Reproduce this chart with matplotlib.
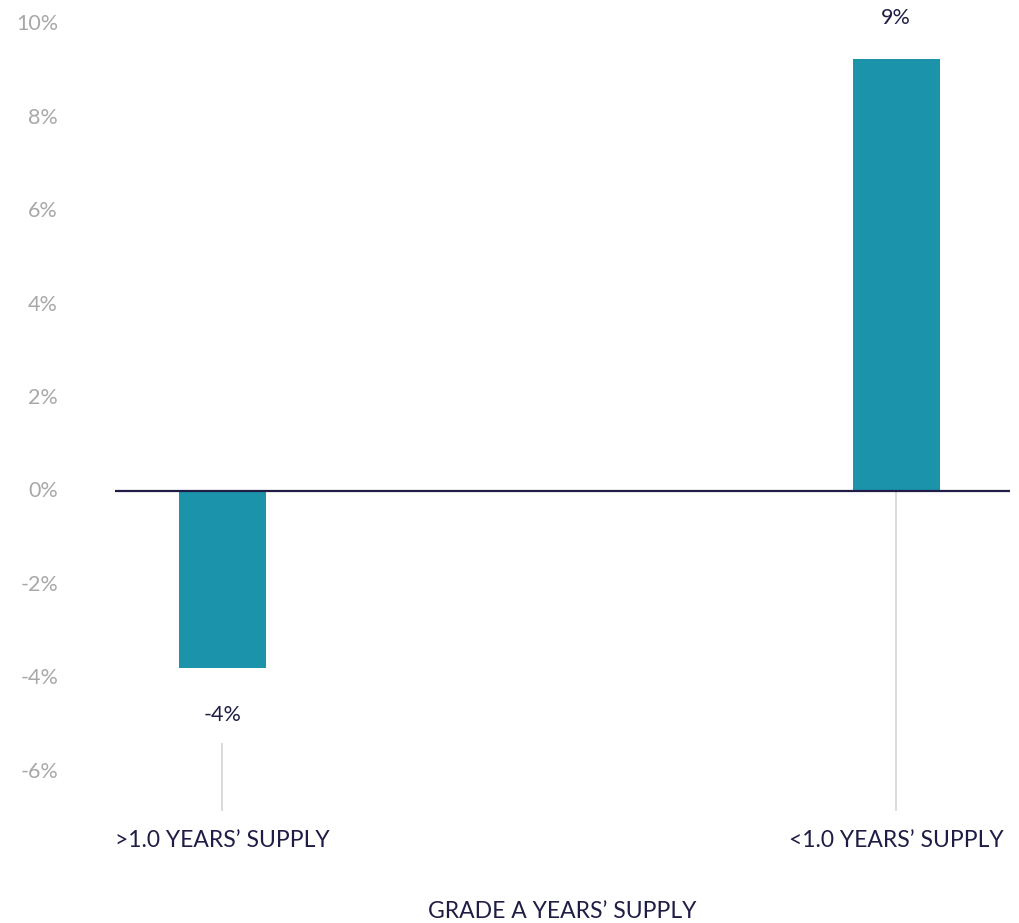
import matplotlib.pyplot as plt
from matplotlib.ticker import FuncFormatter
from matplotlib.transforms import ScaledTranslation

categories = [">1.0 YEARS’ SUPPLY", "<1.0 YEARS’ SUPPLY"]
values = [-3.79, 9.26]
yticks = [-6, -4, -2, 0, 2, 4, 6, 8, 10]

bar_color = "#1a93ab"
navy = "#1f1d45"
grey_text = "#a8a8a8"

plt.rcParams['font.family'] = ['Lato', 'DejaVu Sans']

fig = plt.figure(figsize=(10.19, 9.23), dpi=100)
ax = fig.add_axes([115 / 1019, 104.6 / 923, 895 / 1019, 812.6 / 923])

x = list(range(len(categories)))
ymin, ymax = -7, 10.4

# leader lines from each bar (or its label) down to the category name
for xi, v in zip(x, values):
    top = 0 if v > 0 else v - 1.6
    ax.vlines(xi, -6.85, top, color="#d4d4d4", lw=1.2, zorder=0)

ax.bar(x, values, width=0.129, color=bar_color, zorder=2)
ax.axhline(0, color=navy, lw=1.6, zorder=3)

for xi, v in zip(x, values):
    off = 41 if v > 0 else -47
    ax.annotate(f"{v:.0f}%", (xi, v), xytext=(0, off), textcoords="offset pixels",
                ha="center", va="center", fontsize=15.5, color=navy)

ax.set_xlim(-0.159, 1.169)
ax.set_ylim(ymin, ymax)
ax.set_yticks(yticks)
ax.yaxis.set_major_formatter(FuncFormatter(lambda v, p: f"{v:.0f}%"))
ax.tick_params(axis="y", length=0, pad=41, labelsize=15.5, labelcolor=grey_text)
for lab in ax.get_yticklabels():
    lab.set_transform(lab.get_transform() + ScaledTranslation(0, 2 / 100, fig.dpi_scale_trans))
ax.set_xticks([])
for s in ax.spines.values():
    s.set_visible(False)

for xi, c in zip(x, categories):
    ax.annotate(c, (xi, ymin), xytext=(0, -22), textcoords="offset pixels",
                ha="center", va="center", fontsize=16.5, color=navy)

ax.text(0.5, -0.115, "GRADE A YEARS’ SUPPLY", transform=ax.transAxes,
        ha="center", va="center", fontsize=16.5, color=navy)

fig.savefig("out.png", dpi=100)
